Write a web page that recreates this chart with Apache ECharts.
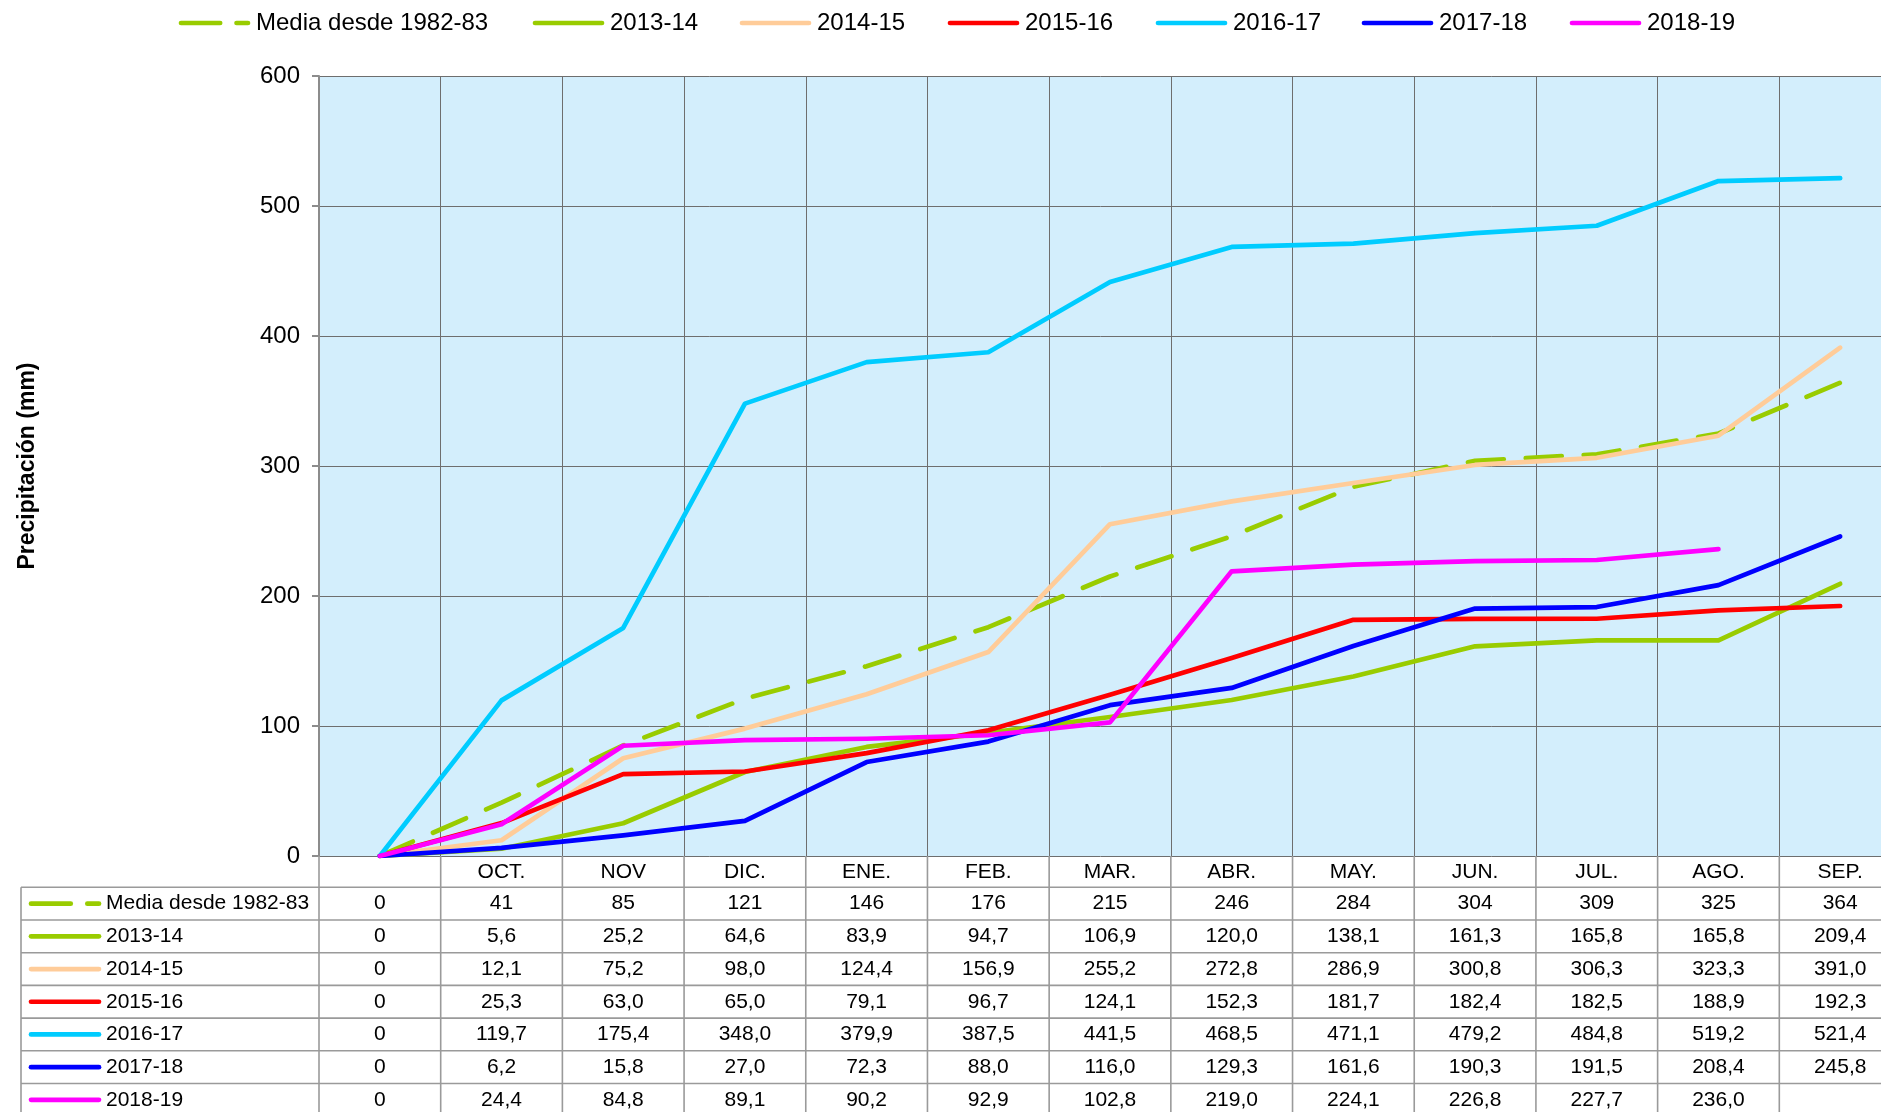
<!DOCTYPE html>
<html>
<head>
<meta charset="utf-8">
<script src="https://cdn.jsdelivr.net/npm/echarts@6/dist/echarts.min.js"></script>
<style>
html,body{margin:0;padding:0;background:#fff;}
#chart{width:1881px;height:1112px;}
</style>
</head>
<body>
<div id="chart"></div>
<script>
const categories = ['', 'OCT.', 'NOV', 'DIC.', 'ENE.', 'FEB.', 'MAR.', 'ABR.', 'MAY.', 'JUN.', 'JUL.', 'AGO.', 'SEP.'];
const seriesNames = ['Media desde 1982-83', '2013-14', '2014-15', '2015-16', '2016-17', '2017-18', '2018-19'];
const media = [0, 41, 85, 121, 146, 176, 215, 246, 284, 304, 309, 325, 364];
const s1314 = [0, 5.6, 25.2, 64.6, 83.9, 94.7, 106.9, 120.0, 138.1, 161.3, 165.8, 165.8, 209.4];
const s1415 = [0, 12.1, 75.2, 98.0, 124.4, 156.9, 255.2, 272.8, 286.9, 300.8, 306.3, 323.3, 391.0];
const s1516 = [0, 25.3, 63.0, 65.0, 79.1, 96.7, 124.1, 152.3, 181.7, 182.4, 182.5, 188.9, 192.3];
const s1617 = [0, 119.7, 175.4, 348.0, 379.9, 387.5, 441.5, 468.5, 471.1, 479.2, 484.8, 519.2, 521.4];
const s1718 = [0, 6.2, 15.8, 27.0, 72.3, 88.0, 116.0, 129.3, 161.6, 190.3, 191.5, 208.4, 245.8];
const s1819 = [0, 24.4, 84.8, 89.1, 90.2, 92.9, 102.8, 219.0, 224.1, 226.8, 227.7, 236.0, null];
const yTicks = [0, 100, 200, 300, 400, 500, 600];

const allData = [media, s1314, s1415, s1516, s1617, s1718, s1819];
const colors = ['#99CC00', '#99CC00', '#FFCC99', '#FF0000', '#00CCFF', '#0000FF', '#FF00FF'];
const dashed = [true, false, false, false, false, false, false];
const legendLefts = [179, 533, 740, 948, 1156, 1362, 1570];

const GRID_LEFT = 319, GRID_TOP = 76, GRID_H = 780, GRID_W = 1582;
const chart = echarts.init(document.getElementById('chart'), null, {renderer: 'canvas'});

const series = allData.map((d, i) => ({
  name: seriesNames[i],
  type: 'line',
  data: d,
  symbol: 'none',
  showSymbol: false,
  connectNulls: false,
  z: 2 + i,
  lineStyle: {
    color: colors[i],
    width: 4.7,
    type: dashed[i] ? [36, 22] : 'solid',
    cap: 'round',
    join: 'round'
  },
  itemStyle: {color: colors[i]}
}));

chart.setOption({
  animation: false,
  backgroundColor: '#ffffff',
  grid: {
    left: GRID_LEFT, top: GRID_TOP, width: GRID_W, height: GRID_H,
    show: true, backgroundColor: '#D3EEFC', borderWidth: 0, containLabel: false,
    outerBoundsMode: 'none'
  },
  xAxis: {
    type: 'category',
    data: categories,
    boundaryGap: true,
    axisLine: {show: false},
    axisTick: {show: false},
    axisLabel: {
      show: true, interval: 0, color: '#000', fontFamily: 'Liberation Sans, Arial, sans-serif',
      fontSize: 21, margin: 16, verticalAlign: 'middle'
    },
    splitLine: {show: true, interval: 0, lineStyle: {color: '#6e6e6e', width: 1}}
  },
  yAxis: {
    type: 'value',
    min: 0, max: 600, interval: 100,
    name: 'Precipitación (mm)',
    nameLocation: 'middle',
    nameGap: 280,
    nameRotate: 90,
    nameTextStyle: {fontFamily: 'Liberation Sans, Arial, sans-serif', fontSize: 23, fontWeight: 'bold', color: '#000'},
    axisLine: {show: true, lineStyle: {color: '#8c8c8c', width: 2}},
    axisTick: {show: true, length: 7, lineStyle: {color: '#8c8c8c', width: 2}},
    axisLabel: {
      color: '#000', fontFamily: 'Liberation Sans, Arial, sans-serif', fontSize: 24, margin: 19,
      formatter: v => yTicks.includes(v) ? String(v) : ''
    },
    splitLine: {show: true, lineStyle: {color: '#6e6e6e', width: 1}}
  },
  series: series
});

function fmt(v, isMedia) {
  if (v === null || v === undefined) return '';
  if (v === 0) return '0';
  return isMedia ? String(v) : v.toFixed(1).replace('.', ',');
}

const c0 = chart.convertToPixel({xAxisIndex: 0}, 0);
const c1 = chart.convertToPixel({xAxisIndex: 0}, 1);
const colW = c1 - c0;
const yZero = chart.convertToPixel({yAxisIndex: 0}, 0);
const headerBottom = 887.3;
const rowH = 32.7;
const tableLeft = 21;
const lineCol = '#9a9a9a';
const nRows = allData.length;
const tableBottom = headerBottom + rowH * nRows;
const g = [];
const font21 = '21px "Liberation Sans", Arial, sans-serif';
const font24 = '24px "Liberation Sans", Arial, sans-serif';

function key(x1, x2, yc, i) {
  const w = x2 - x1;
  if (dashed[i]) {
    const d = w * 0.58, gap = w * 0.23;
    g.push({type: 'line', shape: {x1: x1 + 2, y1: yc, x2: x1 + d, y2: yc}, style: {stroke: colors[i], lineWidth: 4.7, lineCap: 'round'}, z: 11});
    g.push({type: 'line', shape: {x1: x1 + d + gap, y1: yc, x2: x2 - 2, y2: yc}, style: {stroke: colors[i], lineWidth: 4.7, lineCap: 'round'}, z: 11});
  } else {
    g.push({type: 'line', shape: {x1: x1 + 2, y1: yc, x2: x2 - 2, y2: yc}, style: {stroke: colors[i], lineWidth: 4.7, lineCap: 'round'}, z: 11});
  }
}

seriesNames.forEach((n, i) => {
  const x = legendLefts[i];
  key(x, x + 71, 23, i);
  g.push({type: 'text', x: x + 77, y: 23, style: {text: n, font: font24, fill: '#000', textAlign: 'left', textVerticalAlign: 'middle'}, z: 11});
});

for (let r = 0; r <= nRows; r++) {
  const y = headerBottom + r * rowH;
  g.push({type: 'line', shape: {x1: tableLeft, y1: y, x2: 1900, y2: y}, style: {stroke: lineCol, lineWidth: 1.6}, z: 10});
}
g.push({type: 'line', shape: {x1: tableLeft, y1: headerBottom, x2: tableLeft, y2: tableBottom}, style: {stroke: lineCol, lineWidth: 1.6}, z: 10});
for (let k = 0; k <= categories.length; k++) {
  const x = c0 - colW / 2 + k * colW;
  g.push({type: 'line', shape: {x1: x, y1: yZero, x2: x, y2: tableBottom}, style: {stroke: lineCol, lineWidth: 1.6}, z: 10});
}
for (let r = 0; r < nRows; r++) {
  const yc = headerBottom + r * rowH + rowH / 2;
  key(29, 101, yc, r);
  g.push({type: 'text', x: 106, y: yc, style: {text: seriesNames[r], font: font21, fill: '#000', textAlign: 'left', textVerticalAlign: 'middle'}, z: 11});
  allData[r].forEach((v, i) => {
    const xc = chart.convertToPixel({xAxisIndex: 0}, i);
    g.push({type: 'text', x: xc, y: yc, style: {text: fmt(v, r === 0), font: font21, fill: '#000', textAlign: 'center', textVerticalAlign: 'middle'}, z: 11});
  });
}
chart.setOption({graphic: {elements: g}});
</script>
</body>
</html>
